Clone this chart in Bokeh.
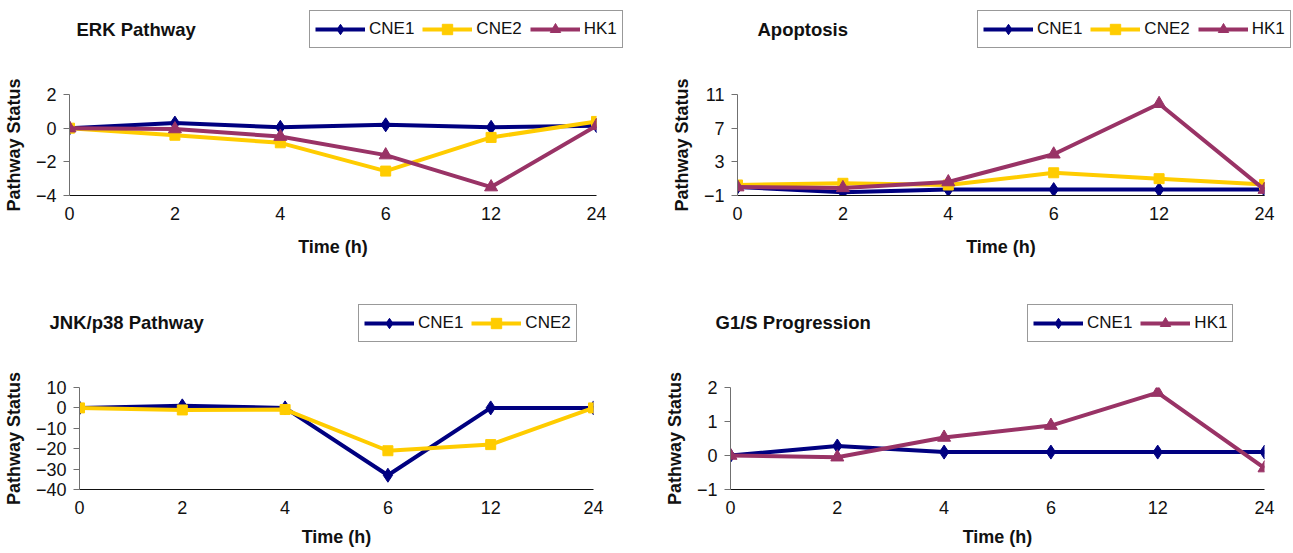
from bokeh.plotting import figure
from bokeh.models import FixedTicker, Range1d, Legend, LegendItem, Label
from bokeh.layouts import column, row
from bokeh.embed import file_html
from bokeh.resources import INLINE

# ---------------- data ----------------
time_labels = ["0", "2", "4", "6", "12", "24"]

erk_cne1 = [0.0, 0.3, 0.05, 0.2, 0.05, 0.15]
erk_cne2 = [0.0, -0.42, -0.87, -2.55, -0.55, 0.4]
erk_hk1 = [0.0, -0.05, -0.5, -1.6, -3.5, 0.15]
erk_ticks = [-4, -2, 0, 2]

apo_cne1 = [0.0, -0.6, -0.3, -0.3, -0.3, -0.3]
apo_cne2 = [0.25, 0.45, 0.25, 1.7, 1.0, 0.3]
apo_hk1 = [0.0, -0.1, 0.6, 3.9, 9.9, -0.3]
apo_ticks = [-1, 3, 7, 11]

jnk_cne1 = [0.0, 1.0, 0.0, -33.0, 0.0, 0.0]
jnk_cne2 = [0.0, -1.0, -0.8, -21.0, -18.0, 0.0]
jnk_ticks = [-40, -30, -20, -10, 0, 10]

g1s_cne1 = [0.0, 0.28, 0.1, 0.1, 0.1, 0.1]
g1s_hk1 = [0.0, -0.05, 0.53, 0.88, 1.85, -0.37]
g1s_ticks = [-1, 0, 1, 2]

COLORS = {"CNE1": "#000080", "CNE2": "#FFCC00", "HK1": "#993366"}
MARKERS = {"CNE1": ("diamond", 14), "CNE2": ("square", 10), "HK1": ("triangle", 13)}
LINE_W = 4

FONT = "Liberation Sans"
TXT = "#111111"


def make_header(title, series, width, height, title_x, title_y, legend_x, legend_y):
    """Strip above a panel holding its title and its legend (pixel coordinates)."""
    xs = list(range(len(time_labels)))
    h = figure(width=width, height=height, x_range=Range1d(0, width), y_range=Range1d(0, height),
               x_axis_type=None, y_axis_type=None, min_border=0,
               output_backend="svg", toolbar_location=None)
    h.outline_line_color = None
    # series renderers live on an off-screen range: only their legend glyphs show here
    h.extra_y_ranges = {"off": Range1d(1e6, 1e6 + 1)}
    h.add_layout(Label(x=title_x, y=title_y, text=title, text_font=FONT,
                       text_font_size="18.5px", text_font_style="bold", text_color=TXT,
                       text_align="left", text_baseline="middle"))
    items = []
    for name, ys in series:
        c = COLORS[name]
        m, s = MARKERS[name]
        r1 = h.line(xs, ys, line_color=c, line_width=LINE_W, y_range_name="off")
        r2 = h.scatter(xs, ys, marker=m, size=s, fill_color=c, line_color=c, y_range_name="off")
        items.append(LegendItem(label=name, renderers=[r1, r2]))
    legend = Legend(items=items, orientation="horizontal", location=(legend_x, legend_y),
                    glyph_width=50, glyph_height=26, label_height=26,
                    label_standoff=4, spacing=8, padding=5, margin=0,
                    label_text_font=FONT, label_text_font_size="17px",
                    label_text_color=TXT,
                    border_line_color="#333333", border_line_width=1,
                    background_fill_color="white", background_fill_alpha=1.0)
    h.add_layout(legend)
    return h


def make_panel(series, y_ticks, width, height, left, top, right, bottom,
               ylab_standoff, xlab_standoff):
    xs = list(range(len(time_labels)))
    p = figure(width=width, height=height,
               min_border_left=left, min_border_top=top,
               min_border_right=right, min_border_bottom=bottom,
               x_range=Range1d(0, len(time_labels) - 1),
               y_range=Range1d(y_ticks[0], y_ticks[-1]),
               output_backend="svg", toolbar_location=None)
    p.xgrid.visible = False
    p.ygrid.visible = False
    p.outline_line_color = None

    p.xaxis.ticker = FixedTicker(ticks=xs)
    p.xaxis.major_label_overrides = {i: lab for i, lab in enumerate(time_labels)}
    p.xaxis.major_tick_out = 0
    p.xaxis.major_tick_in = 0
    p.xaxis.minor_tick_out = 0
    p.xaxis.axis_line_color = "#111111"
    p.xaxis.major_label_standoff = 11
    p.xaxis.axis_label = "Time (h)"
    p.xaxis.axis_label_standoff = xlab_standoff

    p.yaxis.ticker = FixedTicker(ticks=y_ticks)
    p.yaxis.major_tick_out = 6
    p.yaxis.major_tick_in = 0
    p.yaxis.minor_tick_out = 0
    p.yaxis.axis_line_color = "#707070"
    p.yaxis.major_tick_line_color = "#707070"
    p.yaxis.major_label_standoff = 7
    p.yaxis.axis_label = "Pathway Status"
    p.yaxis.axis_label_standoff = ylab_standoff

    for ax in (p.xaxis, p.yaxis):
        ax.major_label_text_font = FONT
        ax.major_label_text_font_size = "18px"
        ax.major_label_text_color = TXT
        ax.axis_label_text_font = FONT
        ax.axis_label_text_font_size = "18px"
        ax.axis_label_text_font_style = "bold"
        ax.axis_label_text_color = TXT

    for name, ys in series:
        c = COLORS[name]
        m, s = MARKERS[name]
        p.line(xs, ys, line_color=c, line_width=LINE_W)
        p.scatter(xs, ys, marker=m, size=s, fill_color=c, line_color=c)
    return p


LW, RW = 640, 653          # column widths (page has no margin in Bokeh's template)
TH, TP = 58, 222           # top header / plot heights
BH, BP = 70, 203           # bottom header / plot heights

erk = [("CNE1", erk_cne1), ("CNE2", erk_cne2), ("HK1", erk_hk1)]
apo = [("CNE1", apo_cne1), ("CNE2", apo_cne2), ("HK1", apo_hk1)]
jnk = [("CNE1", jnk_cne1), ("CNE2", jnk_cne2)]
g1s = [("CNE1", g1s_cne1), ("HK1", g1s_hk1)]

h1 = make_header("ERK Pathway", erk, LW, TH, 76, 29, 309, 10)
h2 = make_header("Apoptosis", apo, RW, TH, 117, 29, 337, 10)
h3 = make_header("JNK/p38 Pathway", jnk, LW, BH, 49, 28, 358, 8)
h4 = make_header("G1/S Progression", g1s, RW, BH, 75, 28, 387, 8)

p1 = make_panel(erk, erk_ticks, LW, TP, left=65, top=36, right=44, bottom=85,
                ylab_standoff=9, xlab_standoff=14)
p2 = make_panel(apo, apo_ticks, RW, TP, left=97, top=36, right=29, bottom=85,
                ylab_standoff=9, xlab_standoff=14)
p3 = make_panel(jnk, jnk_ticks, LW, BP, left=75, top=37, right=47, bottom=64,
                ylab_standoff=9, xlab_standoff=10)
p4 = make_panel(g1s, g1s_ticks, RW, BP, left=90, top=37, right=29, bottom=64,
                ylab_standoff=9, xlab_standoff=10)

layout = column(row(h1, h2), row(p1, p2), row(h3, h4), row(p3, p4))

open("out.html", "w").write(file_html(layout, INLINE))
